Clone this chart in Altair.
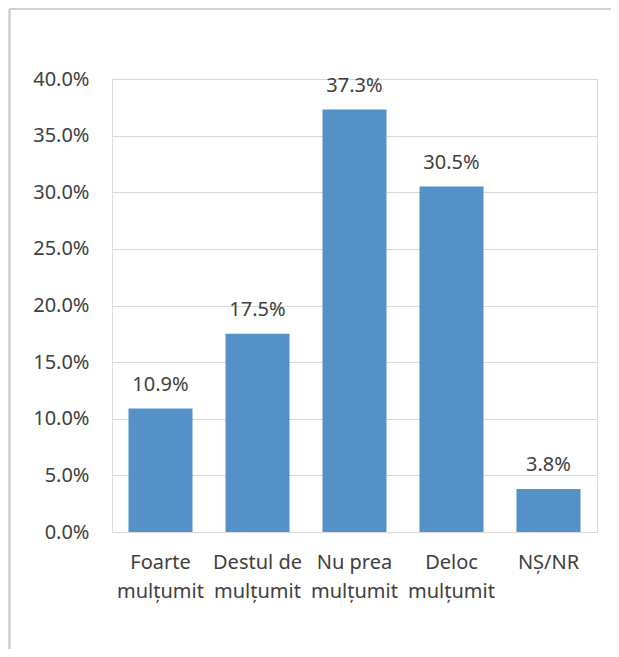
import altair as alt
import pandas as pd

categories = ["Foarte\nmulțumit", "Destul de\nmulțumit", "Nu prea\nmulțumit", "Deloc\nmulțumit", "NȘ/NR"]
values = [10.9, 17.5, 37.3, 30.5, 3.8]
labels = ["10.9%", "17.5%", "37.3%", "30.5%", "3.8%"]
y_ticks = [0, 0.05, 0.10, 0.15, 0.20, 0.25, 0.30, 0.35, 0.40]

df = pd.DataFrame({
    "cat": categories,
    "val": [v / 100 for v in values],
    "lab": labels,
})

FONT = "Noto Sans"
TXT = "#404040"

x = alt.X("cat:N", sort=categories, title=None,
          scale=alt.Scale(paddingInner=0.34, paddingOuter=0.17),
          axis=alt.Axis(labelAngle=0, ticks=False, domain=False, grid=False,
                        labelExpr="split(datum.label, '\\n')",
                        labelFont=FONT, labelFontSize=20, labelColor=TXT,
                        labelLineHeight=29, labelPadding=20, labelBaseline="top"))
y = alt.Y("val:Q", title=None,
          scale=alt.Scale(domain=[0, 0.4], nice=False),
          axis=alt.Axis(values=y_ticks, format=".1%", ticks=False, domain=False,
                        grid=True, gridColor="#d9d9d9", gridWidth=1.2,
                        labelFont=FONT, labelFontSize=20, labelColor=TXT,
                        labelPadding=23))

base = alt.Chart(df)
bars = base.mark_bar(color="#5591c9").encode(x=x, y=y)
text = base.mark_text(font=FONT, fontSize=20, color=TXT, baseline="alphabetic", dy=-18).encode(
    x=alt.X("cat:N", sort=categories), y="val:Q", text="lab:N")

frame_left = alt.Chart(df).mark_rule(color="#d0d0d0", strokeWidth=1.5).encode(
    x=alt.value(-102.5), y=alt.value(-70), y2=alt.value(570))
frame_top = alt.Chart(df).mark_rule(color="#d0d0d0", strokeWidth=1.5).encode(
    x=alt.value(-102.5), x2=alt.value(500), y=alt.value(-70))

chart = alt.layer(bars, text, frame_left, frame_top).properties(
    width=485, height=453,
    autosize=alt.AutoSizeParams(type="none"),
    padding={"left": 104, "top": 71, "right": 14, "bottom": 117},
).configure_view(stroke=None).configure(background="white")

chart.save("out.html", embed_options={"renderer": "svg", "actions": False})
